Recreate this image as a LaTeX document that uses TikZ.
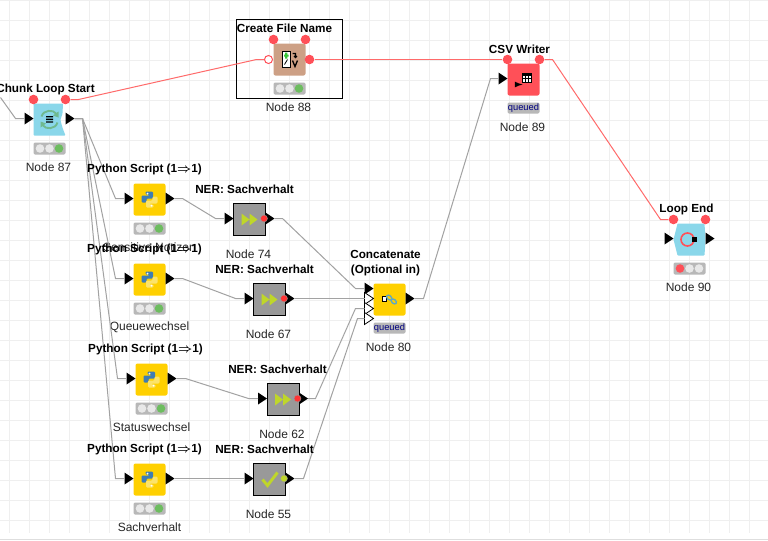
\documentclass[tikz,border=0pt]{standalone}
\usepackage{fontspec}
\setmainfont{Liberation Sans}
\usetikzlibrary{shapes.geometric}
\definecolor{gridgray}{HTML}{EFEFEF}
\definecolor{wiregray}{HTML}{A2A2A2}
\definecolor{flowred}{HTML}{FF5058}
\definecolor{flowline}{HTML}{FF6A6A}
\definecolor{loopblue}{HTML}{8AD7EA}
\definecolor{loopgreen}{HTML}{6FB98F}
\definecolor{snippet}{HTML}{CDA085}
\definecolor{scriptyellow}{HTML}{FFD000}
\definecolor{snakeblue}{HTML}{3F7DB3}
\definecolor{snakeyellow}{HTML}{FCE36A}
\definecolor{nergray}{HTML}{999999}
\definecolor{nerlime}{HTML}{BFD62A}
\definecolor{lampoff}{HTML}{E8E8E8}
\definecolor{lampgreen}{HTML}{6DBD5F}
\definecolor{lampbox}{HTML}{B8B8B8}
\tikzset{
  title/.style={font=\fontsize{8.8}{11.25}\selectfont\bfseries, inner sep=0, align=center},
  caption/.style={font=\fontsize{9}{11}\selectfont, inner sep=0, text=black!85},
  wire/.style={draw=wiregray, line width=.75pt},
  flowwire/.style={draw=flowline, line width=.75pt},
  body/.style={minimum size=24pt, inner sep=0, rounded corners=1.5pt},
  nerbody/.style={minimum size=24pt, inner sep=0, draw=black, line width=.75pt, fill=nergray},
  portin/.style={isosceles triangle, isosceles triangle stretches, minimum width=9pt, minimum height=6.75pt,
    inner sep=0, outer sep=0, fill=black, anchor=west},
  hollowin/.style={portin, fill=white, draw=black, line width=.6pt},
  flowport/.style={circle, minimum size=7.2pt, inner sep=0, fill=flowred},
  badge/.style={fill=lampbox, rounded corners=1pt, text=blue!50!black, inner sep=0,
    minimum width=24pt, minimum height=8.25pt, font=\fontsize{7}{7}\selectfont},
  pics/lights/.style n args={3}{code={
    \fill[lampbox, rounded corners=1pt] (-16,-6) rectangle (16,6);
    \fill[#1] (-9.5,0) circle (4.3);
    \fill[#2] (0,0) circle (4.3);
    \fill[#3] (9.5,0) circle (4.3);
  }},
  pics/snake/.style={code={
    \fill[#1, rounded corners=.9pt] (-4,-8) -- (3.5,-8) -- (3.5,-1) -- (-3,-1) -- (-3,3) -- (-8,3)
      -- (-8,-4) -- (0,-4) -- (0,-5) -- (-4,-5) -- cycle;
  }},
  pics/pylogo/.style={code={
    \pic {snake=snakeblue};
    \pic[rotate=180] {snake=snakeyellow};
    \fill[white] (-2,-6) circle (1);
    \fill[white] (2,6) circle (1);
  }},
}
\begin{document}
\begin{tikzpicture}[x=.75pt, y=-.75pt]
\useasboundingbox (0,0) rectangle (768,540);
\fill[white] (0,0) rectangle (768,540);
\foreach \gx in {9.5,29.5,...,769} \draw[gridgray, line width=.75pt] (\gx,0) -- (\gx,533);
\foreach \gy in {0.5,20.5,40.5,...,521} \draw[gridgray, line width=.75pt] (0,\gy) -- (768,\gy);
\draw[black!13, line width=.75pt] (0,539.5) -- (768,539.5);
\begin{scope}[shift={(.5,.5)}]

% chunk loop start
\fill[loopblue, rounded corners=.6pt] (33,103) -- (62.5,103) -- (62,113) -- (60,119)
  .. controls (61,125) and (63,130) .. (65,135) -- (33,135) -- cycle;
\draw[loopgreen, line width=1.4pt] (41,116) .. controls (43,109) and (53,109) .. (55.5,113);
\draw[loopgreen, line width=1.4pt] (57,122) .. controls (55,129) and (45,129) .. (42.5,125);
\fill[loopgreen] (58,111) -- (58,117) -- (52.5,115) -- cycle (40,127) -- (40,121) -- (45.5,123) -- cycle;
\fill[black] (45.5,115.5) rectangle (52.5,116.8) (45.5,118.2) rectangle (52.5,119.5) (45.5,120.9) rectangle (52.5,122.2);
\node[portin] (chunkin) at (24,118) {};
\node[portin] (chunkout) at (65,118) {};
\node[flowport] (chunkvara) at (33,99) {};
\node[flowport] (chunkvarb) at (65,99) {};
\pic at (49,148) {lights={lampoff}{lampoff}{lampgreen}};
\coordinate (chunkfeed) at (0,97);

% create file name
\draw[black, line width=.75pt] (236,19) rectangle (342,98);
\node[body, fill=snippet] (filename) at (289,59) {};
\fill[white, draw=black, line width=.6pt] (282,50.5) -- (289.5,50.5) -- (289.5,66.5) -- (282,66.5) -- cycle;
\fill[green!55!gray] (283.5,54) rectangle (288,56) (284.7,52) rectangle (286.8,58);
\draw[black, line width=.6pt] (284,64) -- (287,59);
\draw[black, line width=.9pt] (292,53) -- (295,53) -- (295,57) (293.5,55.5) -- (295,57) -- (296.5,55.5);
\draw[black, line width=1pt] (292,60) -- (294.5,66) -- (297,60);
\node[flowport] (filevara) at (273,39) {};
\node[flowport] (filevarb) at (305,39) {};
\node[flowport, fill=white, draw=flowred, line width=.75pt, minimum size=6pt] (filein) at (268,59) {};
\node[flowport] (fileout) at (309,59) {};
\pic at (289,88) {lights={lampoff}{lampoff}{lampgreen}};

% python scripts
\foreach \n/\x/\y/\t in {1/149/199/Sensitive Notizen, 2/149/279/Queuewechsel, 3/151/379/Statuswechsel, 4/149/479/Sachverhalt} {
  \node[body, fill=scriptyellow] (py\n) at (\x,\y) {};
  \pic at (\x,\y) {pylogo};
  \node[portin] (py\n in) at (\x-25,\y-1) {};
  \node[portin] (py\n out) at (\x+16,\y-1) {};
  \pic at (\x,\y+29) {lights={lampoff}{lampoff}{lampgreen}};
  \node[caption] (py\n name) at (\x,\y+48) {\t};
}

% ner nodes
\foreach \n/\x/\y in {74/249/219, 67/269/299, 62/282.5/399, 55/269/479} {
  \node[nerbody] (ner\n) at (\x,\y) {};
  \node[portin] (ner\n in) at (\x-25,\y-1) {};
  \node[portin] (ner\n out) at (\x+16,\y-1) {};
  \node[caption] (ner\n name) at (\x-1,\y+35) {Node \n};
}
\foreach \n/\x/\y in {74/249/219, 67/269/299, 62/282.5/399} {
  \fill[nerlime] (\x-8,\y-6) -- (\x,\y) -- (\x-8,\y+6) -- cycle (\x,\y-6) -- (\x+8,\y) -- (\x,\y+6) -- cycle;
  \fill[red!80!white, draw=black!40, line width=.3pt] (\x+14.5,\y-1) circle (3.5);
}
\draw[nerlime, line width=2.2pt] (262,479) -- (267,485) -- (277,472);
\fill[nerlime, draw=black!40, line width=.3pt] (283.5,478) circle (3.5);

% concatenate
\node[body, fill=scriptyellow] (concat) at (389,299) {};
\node[portin] (concatina) at (364,288) {};
\node[hollowin] (concatinb) at (364,298) {};
\node[hollowin] (concatinc) at (364,308) {};
\node[hollowin] (concatind) at (364,318) {};
\node[portin] (concatout) at (405,298) {};
\draw[black, fill=white, line width=.6pt] (381.5,296) rectangle (386,300.5);
\draw[cyan!55!gray, line width=1pt, rotate around={-40:(391,299)}] (388,299) ellipse (3 and 2) (394,299) ellipse (3 and 2);
\node[badge] (concatstate) at (389,327.5) {queued};

% csv writer
\node[body, fill=flowred] (csv) at (523,79) {};
\node[portin] (csvin) at (498,78) {};
\node[flowport] (csvvara) at (507,59) {};
\node[flowport] (csvvarb) at (539,59) {};
\draw[black, fill=white, line width=.6pt] (521.5,72.5) rectangle (530.5,81.5);
\fill[black] (521.5,72.5) rectangle (530.5,75);
\draw[black, line width=.5pt] (524.5,75) -- (524.5,81.5) (527.5,75) -- (527.5,81.5) (521.5,78.2) -- (530.5,78.2);
\draw[-latex, black, line width=1pt] (515,84) -- (522,84);
\node[badge] (csvstate) at (523,107.5) {queued};

% loop end
\fill[loopblue, rounded corners=.6pt] (677,223) -- (704,223) -- (705,239) -- (704,255) -- (677,255) -- (673,239) -- cycle;
\draw[flowred, line width=1.2pt] (687,239) circle (6.5);
\fill[black] (691.5,236.5) rectangle (696.5,241.5);
\node[portin] (endin) at (664,238) {};
\node[portin] (endout) at (705,238) {};
\node[flowport] (endvara) at (673,219) {};
\node[flowport] (endvarb) at (705,219) {};
\pic at (689,268) {lights={flowred}{lampoff}{lampoff}};

% wires
\draw[wire] (chunkfeed) -- (15,118) -- (chunkin.west);
\draw[wire] (chunkout.east) -- (82,118) -- (115,198) -- (py1in.west);
\draw[wire] (chunkout.east) -- (82,118) -- (115,278) -- (py2in.west);
\draw[wire] (chunkout.east) -- (82,118) -- (117,378) -- (py3in.west);
\draw[wire] (chunkout.east) -- (82,118) -- (115,478) -- (py4in.west);
\draw[wire] (py1out.east) -- (182,198) -- (215,218) -- (ner74in.west);
\draw[wire] (py2out.east) -- (182,278) -- (235,298) -- (ner67in.west);
\draw[wire] (py3out.east) -- (185,378) -- (248,398) -- (ner62in.west);
\draw[wire] (py4out.east) -- (ner55in.west);
\draw[wire] (ner74out.east) -- (282,218) -- (355,288) -- (concatina.west);
\draw[wire] (ner67out.east) -- (concatinb.west);
\draw[wire] (ner62out.east) -- (315,398) -- (355,308) -- (concatinc.west);
\draw[wire] (ner55out.east) -- (303,478) -- (357,318) -- (concatind.west);
\draw[wire] (concatout.east) -- (423,298) -- (490,78) -- (csvin.west);
\draw[flowwire] (chunkvarb) -- (78,99) -- (256,59) -- (filein);
\draw[flowwire] (fileout) -- (csvvara);
\draw[flowwire] (csvvarb) -- (552,59) -- (660,219) -- (endvara);

% labels
\node[title] (chunktitle) at (45,88.5) {Chunk Loop Start};
\node[caption] (chunkname) at (48,166.5) {Node 87};
\node[title] (filetitle) at (284,28) {Create File Name};
\node[caption] (filenamecap) at (288,106.5) {Node 88};
\foreach \n/\x/\y in {1/144/168.5, 2/144/248.5, 3/145/348.5, 4/144/448.5}
  \node[title] (py\n title) at (\x,\y) {Python Script (1{\boldmath$\Rightarrow$}1)};
\foreach \n/\x/\y in {74/244/188.5, 67/264/268.5, 62/277/368.5, 55/264/448.5}
  \node[title] (ner\n title) at (\x,\y) {NER: Sachverhalt};
\node[title] (concattitle) at (385,262.5) {Concatenate\\(Optional in)};
\node[caption] (concatname) at (388,346.5) {Node 80};
\node[title] (csvtitle) at (519,48.5) {CSV Writer};
\node[caption] (csvname) at (522,126.5) {Node 89};
\node[title] (endtitle) at (686,208.5) {Loop End};
\node[caption] (endname) at (688,286.5) {Node 90};
\end{scope}
\end{tikzpicture}
\end{document}
